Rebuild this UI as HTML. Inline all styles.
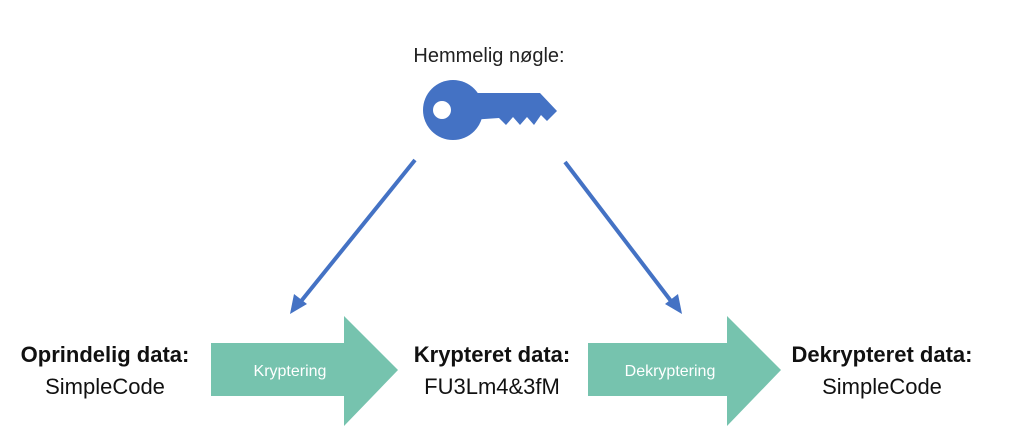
<!DOCTYPE html>
<html><head><meta charset="utf-8"><style>
html,body{margin:0;padding:0;background:#fff}
body{width:1022px;height:444px;position:relative;overflow:hidden;font-family:"Liberation Sans",sans-serif}
</style></head><body>
<svg width="1022" height="444" style="position:absolute;left:0;top:0" font-family="Liberation Sans, sans-serif">
<text x="489" y="62" font-size="20" text-anchor="middle" fill="#222">Hemmelig nøgle:</text>
<!-- key -->
<circle cx="453" cy="110" r="30" fill="#4472c4"/>
<polygon points="470,93 540,93 557,111 547,121 541,115 534,125 527,117 520,125 513,117 506,125 499,118 470,120" fill="#4472c4"/>
<circle cx="442" cy="110" r="9" fill="#fff"/>
<!-- blue arrows -->
<g stroke="#4472c4" stroke-width="4" fill="#4472c4">
<line x1="415" y1="160" x2="298" y2="305"/>
<line x1="565" y1="162" x2="674" y2="305"/>
</g>
<polygon points="290,314 294,294 307,304" fill="#4472c4"/>
<polygon points="682,314 665,304 678,294" fill="#4472c4"/>
<!-- teal arrows -->
<polygon points="211,343 344,343 344,316 398,370 344,426 344,396 211,396" fill="#76c3ae"/>
<polygon points="588,343 727,343 727,316 781,370 727,426 727,396 588,396" fill="#76c3ae"/>
<text x="290" y="376" font-size="16" fill="#fff" text-anchor="middle">Kryptering</text>
<text x="670" y="376" font-size="16" fill="#fff" text-anchor="middle">Dekryptering</text>
<g text-anchor="middle" fill="#111">
<text x="105" y="362" font-weight="bold" font-size="22">Oprindelig data:</text>
<text x="105" y="394" font-size="22">SimpleCode</text>
<text x="492" y="362" font-weight="bold" font-size="22">Krypteret data:</text>
<text x="492" y="394" font-size="22">FU3Lm4&amp;3fM</text>
<text x="882" y="362" font-weight="bold" font-size="22">Dekrypteret data:</text>
<text x="882" y="394" font-size="22">SimpleCode</text>
</g>
</svg>
</body></html>
